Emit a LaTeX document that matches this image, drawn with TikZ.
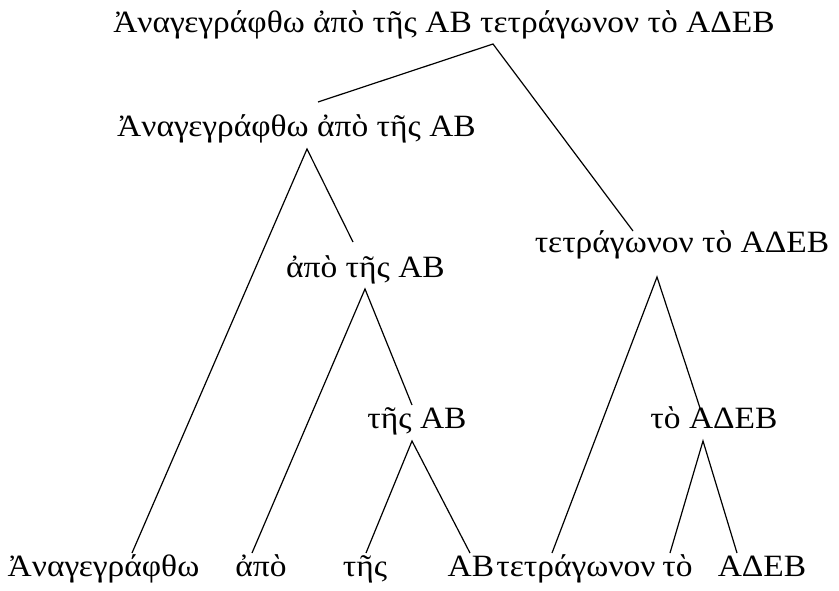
\documentclass[tikz,border=0pt]{standalone}
\usepackage{fontspec}
\setmainfont{Liberation Serif}[FakeStretch=1.08]
\tikzset{
  lbl/.style={anchor=base, inner sep=0pt, font=\fontsize{31}{37}\selectfont},
  edge/.style={line width=1.2pt, draw=black}
}
\begin{document}
\begin{tikzpicture}[x=1pt,y=-1pt]
\useasboundingbox (0,0) rectangle (839,591);
% nodes
\node[lbl] (root) at (444,33) {Ἀναγεγράφθω ἀπὸ τῆς ΑΒ τετράγωνον τὸ ΑΔΕΒ};
\node[lbl] (n1) at (296.5,137) {Ἀναγεγράφθω ἀπὸ τῆς ΑΒ};
\node[lbl] (n2) at (682,253) {τετράγωνον τὸ ΑΔΕΒ};
\node[lbl] (n11) at (365.5,277) {ἀπὸ τῆς ΑΒ};
\node[lbl] (n111) at (417,428) {τῆς ΑΒ};
\node[lbl] (n21) at (714,428) {τὸ ΑΔΕΒ};
\node[lbl] (l1) at (103.5,576) {Ἀναγεγράφθω};
\node[lbl] (l2) at (261,576) {ἀπὸ};
\node[lbl] (l3) at (365,576) {τῆς};
\node[lbl] (l4) at (471,576) {ΑΒ};
\node[lbl] (l5) at (576,576) {τετράγωνον};
\node[lbl] (l6) at (677.5,576) {τὸ};
\node[lbl] (l7) at (762,576) {ΑΔΕΒ};
% connector ends
\coordinate (root-s) at (493,44);
\coordinate (n1-n) at (318,102);
\coordinate (n2-n) at (633,231);
\coordinate (n1-s) at (307,149);
\coordinate (l1-n) at (132,553);
\coordinate (n11-n) at (353,242);
\coordinate (n11-s) at (365,289);
\coordinate (l2-n) at (252,553);
\coordinate (n111-n) at (412,405);
\coordinate (n2-s) at (657,277);
\coordinate (l5-n) at (552,553);
\coordinate (n21-n) at (700,408);
\coordinate (n111-s) at (412,441);
\coordinate (l3-n) at (366,553);
\coordinate (l4-n) at (470,553);
\coordinate (n21-s) at (703,441);
\coordinate (l6-n) at (670,553);
\coordinate (l7-n) at (737,553);
% connectors
\draw[edge] (n1-n) -- (root-s) -- (n2-n);
\draw[edge] (l1-n) -- (n1-s) -- (n11-n);
\draw[edge] (l2-n) -- (n11-s) -- (n111-n);
\draw[edge] (l5-n) -- (n2-s) -- (n21-n);
\draw[edge] (l3-n) -- (n111-s) -- (l4-n);
\draw[edge] (l6-n) -- (n21-s) -- (l7-n);
\end{tikzpicture}
\end{document}
